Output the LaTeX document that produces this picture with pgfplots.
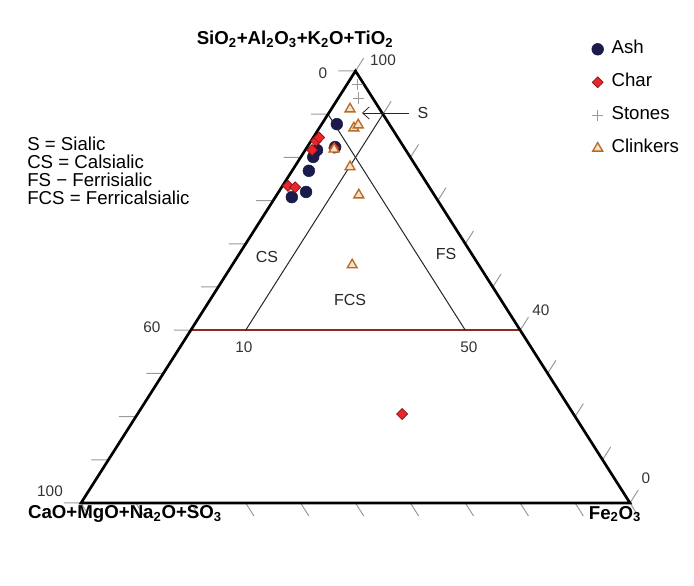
\documentclass[border=0pt]{standalone}
\usepackage{pgfplots}
\pgfplotsset{compat=1.18}
\usepackage{fontspec}
\setmainfont{Liberation Sans}
\usetikzlibrary{arrows.meta}
\definecolor{ashc}{HTML}{1B1B4B}
\definecolor{charc}{HTML}{E8262B}
\definecolor{charedge}{HTML}{8B1010}
\definecolor{clinkedge}{HTML}{B86A2A}
\definecolor{clinkfill}{HTML}{F6E2C8}
\definecolor{stonec}{HTML}{9A9A9A}
\definecolor{redline}{HTML}{8E2A22}
\definecolor{tickc}{HTML}{9A9A9A}
\begin{document}
\begin{tikzpicture}
\begin{axis}[at={(0,0)}, anchor=south west, scale only axis,
  width=411.75pt, height=324pt,
  xmin=0, xmax=100, ymin=0, ymax=100,
  hide axis, clip=false, unbounded coords=jump,
  legend style={at={(axis cs:93.0,107.4)}, anchor=north west, draw=none, fill=none,
    font=\fontsize{14}{16}\selectfont, row sep=9.75pt, inner sep=0pt,
    nodes={inner sep=1pt, text height=10pt, text depth=3pt},
    /tikz/every odd column/.append style={column sep=5pt},
    /tikz/every even column/.append style={column sep=1pt}},
  legend cell align=left,
  legend image code/.code={\draw[#1] plot coordinates {(0.15cm,0cm)};}
]
% tick marks
\addplot[tickc, line width=0.75pt, forget plot] coordinates {
(0,0)(-3.1,0) (nan,nan)
(5,10)(1.9,10) (nan,nan)
(10,20)(6.9,20) (nan,nan)
(15,30)(11.9,30) (nan,nan)
(20,40)(16.9,40) (nan,nan)
(25,50)(21.9,50) (nan,nan)
(30,60)(26.9,60) (nan,nan)
(35,70)(31.9,70) (nan,nan)
(40,80)(36.9,80) (nan,nan)
(45,90)(41.9,90) (nan,nan)
(50,100)(46.9,100) (nan,nan)
(100,0)(101.5,3) (nan,nan)
(95,10)(96.5,13) (nan,nan)
(90,20)(91.5,23) (nan,nan)
(85,30)(86.5,33) (nan,nan)
(80,40)(81.5,43) (nan,nan)
(75,50)(76.5,53) (nan,nan)
(70,60)(71.5,63) (nan,nan)
(65,70)(66.5,73) (nan,nan)
(60,80)(61.5,83) (nan,nan)
(55,90)(56.5,93) (nan,nan)
(50,100)(51.5,103) (nan,nan)
(0,0)(1.5,-3) (nan,nan)
(10,0)(11.5,-3) (nan,nan)
(20,0)(21.5,-3) (nan,nan)
(30,0)(31.5,-3) (nan,nan)
(40,0)(41.5,-3) (nan,nan)
(50,0)(51.5,-3) (nan,nan)
(60,0)(61.5,-3) (nan,nan)
(70,0)(71.5,-3) (nan,nan)
(80,0)(81.5,-3) (nan,nan)
(90,0)(91.5,-3) (nan,nan)
(100,0)(101.5,-3)
};
% field boundaries
\addplot[redline, line width=1.6pt, forget plot] coordinates {(20,40)(80,40)};
\addplot[black!85, line width=0.75pt, forget plot] coordinates {(30,40)(55,90)};
\addplot[black!85, line width=0.75pt, forget plot] coordinates {(70,40)(45,90)};
% triangle
\addplot[black, line width=2pt, line join=miter, forget plot] coordinates {(50,0)(100,0)(50,100)(0,0)(50,0)};
% data
\addplot[only marks, mark=*, mark size=4.4pt, mark options={fill=ashc, draw=ashc}] coordinates {
(46.6,87.7)(46.3,82.4)(43.0,81.7)(42.3,80.1)(41.5,76.9)(41.0,72.0)(38.4,70.8)};
\addlegendentry{Ash}
\addplot[only marks, mark=square*, mark size=2.9pt, mark options={rotate=45, fill=charc, draw=charedge, line width=0.5pt}] coordinates {
(42.8,83.8)(43.4,84.6)(42.1,81.7)(37.7,73.4)(39.0,73.1)(46.1,82.2)(58.5,20.6)};
\addlegendentry{Char}
\addplot[only marks, mark=+, mark size=4.2pt, mark options={draw=stonec, line width=0.6pt}] coordinates {
(50.3,96.8)(50.5,93.75)};
\addlegendentry{Stones}
\addplot[only marks, mark=triangle*, mark size=4.3pt, mark options={fill=clinkfill, draw=clinkedge, line width=1pt}] coordinates {
(49.0,91.2)(49.7,86.8)(50.5,87.5)(46.1,81.9)(49.0,77.8)(50.6,71.3)(49.4,55.1)};
\addlegendentry{Clinkers}
\end{axis}
\begin{scope}[shift={(-60.75pt,377.25pt)}, x=0.75pt, y=-0.75pt]
\node[font=\bfseries\fontsize{14}{16}\selectfont] at (295,39) {SiO\textsubscript{2}+Al\textsubscript{2}O\textsubscript{3}+K\textsubscript{2}O+TiO\textsubscript{2}};
\node[font=\bfseries\fontsize{14}{16}\selectfont] at (125,514) {CaO+MgO+Na\textsubscript{2}O+SO\textsubscript{3}};
\node[font=\bfseries\fontsize{14}{16}\selectfont] at (615,514) {Fe\textsubscript{2}O\textsubscript{3}};
\node[anchor=west, align=left, font=\fontsize{14}{13.5}\selectfont, inner sep=0pt] at (27,171) {S = Sialic\\CS = Calsialic\\FS − Ferrisialic\\FCS = Ferricalsialic};
\begin{scope}[every node/.style={font=\fontsize{12}{14}\selectfont, text=black!85}]
\node at (267,257) {CS};
\node at (446,254) {FS};
\node at (350,300) {FCS};
\node at (423,113) {S};
\end{scope}
\begin{scope}[every node/.style={font=\fontsize{11.5}{13}\selectfont, text=black!80}]
\node at (323,73) {0};
\node at (383,60) {100};
\node at (152,327) {60};
\node at (244,347) {10};
\node at (469,347) {50};
\node at (541,310) {40};
\node at (50,491) {100};
\node at (646,478) {0};
\end{scope}
\draw[black!85, line width=0.6pt, -{Straight Barb[length=5pt,width=9pt]}] (409,113) -- (362,113);
\pgfresetboundingbox
\path[use as bounding box] (0,0) rectangle (694,586);
\end{scope}
\end{tikzpicture}
\end{document}
